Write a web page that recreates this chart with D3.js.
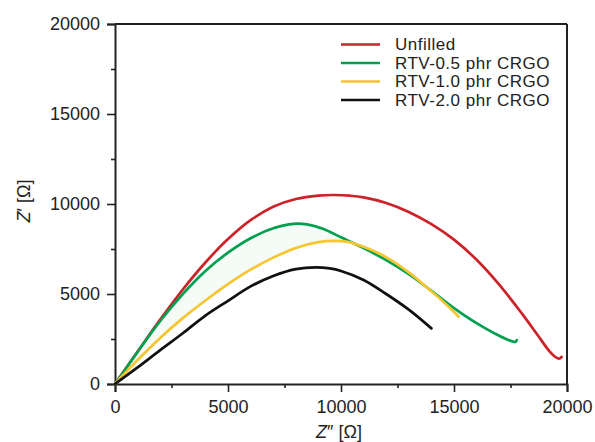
<!DOCTYPE html>
<html><head><meta charset="utf-8">
<script src="https://cdn.jsdelivr.net/npm/d3@7"></script>
<style>
html,body{margin:0;padding:0;background:#fff;}
svg text{font-family:"Liberation Sans",Arial,sans-serif;fill:#222;}
</style></head>
<body><svg id="c" width="595" height="442"></svg>
<script>
const seriesNames = ["Unfilled","RTV-0.5 phr CRGO","RTV-1.0 phr CRGO","RTV-2.0 phr CRGO"];
const seriesColors = ["#cc2229","#00a04f","#f6c530","#111111"];
const xTicks = [0,5000,10000,15000,20000];
const yTicks = [0,5000,10000,15000,20000];
const minorTicks = [2500,7500,12500,17500];

const unfilled = [[0,0],[1000,1800],[2000,3580],[3000,5250],[4000,6750],[5000,8050],[6000,9100],[7000,9850],[8000,10280],[9000,10470],[9700,10500],[10400,10460],[11000,10370],[12000,10060],[13000,9560],[14000,8880],[15000,8020],[16000,6900],[17000,5520],[18000,3920],[18700,2720],[19200,1860],[19500,1490],[19650,1410],[19760,1500]];
const rtv05 = [[0,0],[1000,1780],[2000,3500],[3000,5000],[4000,6280],[5000,7300],[6000,8100],[7000,8650],[7900,8900],[8500,8870],[9200,8620],[10000,8150],[11000,7550],[12000,6880],[13000,6100],[14000,5180],[15000,4220],[16000,3380],[17000,2680],[17600,2360],[17720,2340],[17780,2440]];
const rtv10 = [[0,0],[1000,1330],[2000,2560],[3000,3660],[4000,4640],[5000,5550],[6000,6350],[7000,7020],[8000,7560],[9000,7880],[9700,7950],[10300,7900],[11000,7620],[12000,7050],[13000,6200],[14000,5150],[14800,4250],[15200,3750]];
const rtv20 = [[0,0],[1000,920],[2000,1880],[3000,2820],[4000,3800],[5000,4620],[6000,5420],[7000,6000],[8000,6380],[8900,6480],[9500,6420],[10000,6280],[11000,5780],[12000,5000],[13000,4130],[14000,3090]];
const allSeries = [unfilled, rtv05, rtv10, rtv20];

const svg = d3.select("#c");
const x = d3.scaleLinear().domain([0,20000]).range([115,567]);
const y = d3.scaleLinear().domain([0,20000]).range([384,24]);

const line = d3.line().x(d=>x(d[0])).y(d=>y(d[1])).curve(d3.curveCatmullRom.alpha(0.5));

// faint shading between green and yellow
const shade = rtv05.filter(d=>d[0]<=10000).concat(rtv10.filter(d=>d[0]<=10300).slice().reverse());
svg.append("path").attr("d", d3.line().x(d=>x(d[0])).y(d=>y(d[1])).curve(d3.curveLinear)(shade))
  .attr("fill","#f5fbf7").attr("stroke","none");

// frame top and right
svg.append("line").attr("x1",x(0)).attr("x2",x(20000)).attr("y1",y(20000)).attr("y2",y(20000)).attr("stroke","#222").attr("stroke-width",2);
svg.append("line").attr("x1",x(20000)).attr("x2",x(20000)).attr("y1",y(0)).attr("y2",y(20000)).attr("stroke","#222").attr("stroke-width",2);

// axes
const fmt = d3.format("d");
svg.append("g").attr("transform",`translate(0,${y(0)})`)
  .call(d3.axisBottom(x).tickValues(xTicks).tickFormat(fmt).tickSize(8).tickPadding(8));
svg.append("g").attr("transform",`translate(${x(0)},0)`)
  .call(d3.axisLeft(y).tickValues(yTicks).tickFormat(fmt).tickSize(8).tickPadding(7));
svg.append("g").attr("transform",`translate(0,${y(0)})`)
  .call(d3.axisBottom(x).tickValues(minorTicks).tickFormat("").tickSize(4)).select(".domain").remove();
svg.append("g").attr("transform",`translate(${x(0)},0)`)
  .call(d3.axisLeft(y).tickValues(minorTicks).tickFormat("").tickSize(4)).select(".domain").remove();
svg.selectAll(".domain").attr("stroke","#222").attr("stroke-width",2);
svg.selectAll(".tick line").attr("stroke","#222").attr("stroke-width",1.6);
svg.selectAll(".tick text").attr("font-size",18).attr("font-family","Liberation Sans, Arial, sans-serif").attr("fill","#222");

// curves
allSeries.forEach((s,i)=>{
  svg.append("path").attr("d",line(s)).attr("fill","none")
    .attr("stroke",seriesColors[i]).attr("stroke-width",2.7)
    .attr("stroke-linejoin","round").attr("stroke-linecap","round");
});

// legend
const legY = [44.5,63,81.5,100];
seriesNames.forEach((n,i)=>{
  svg.append("line").attr("x1",341).attr("x2",380).attr("y1",legY[i]).attr("y2",legY[i])
    .attr("stroke",seriesColors[i]).attr("stroke-width",2.4);
  svg.append("text").attr("x",395).attr("y",legY[i]).attr("dy","0.35em")
    .attr("font-size",17).attr("letter-spacing","0.5px").text(n);
});

// axis titles
const xt = svg.append("text").attr("x",339).attr("y",438).attr("text-anchor","middle").attr("font-size",18);
xt.append("tspan").attr("font-style","italic").text("Z");
xt.append("tspan").text("″ [Ω]");
const yt = svg.append("text").attr("transform","translate(30,201) rotate(-90)").attr("text-anchor","middle").attr("font-size",18);
yt.append("tspan").attr("font-style","italic").text("Z");
yt.append("tspan").text("′ [Ω]");
</script></body></html>
